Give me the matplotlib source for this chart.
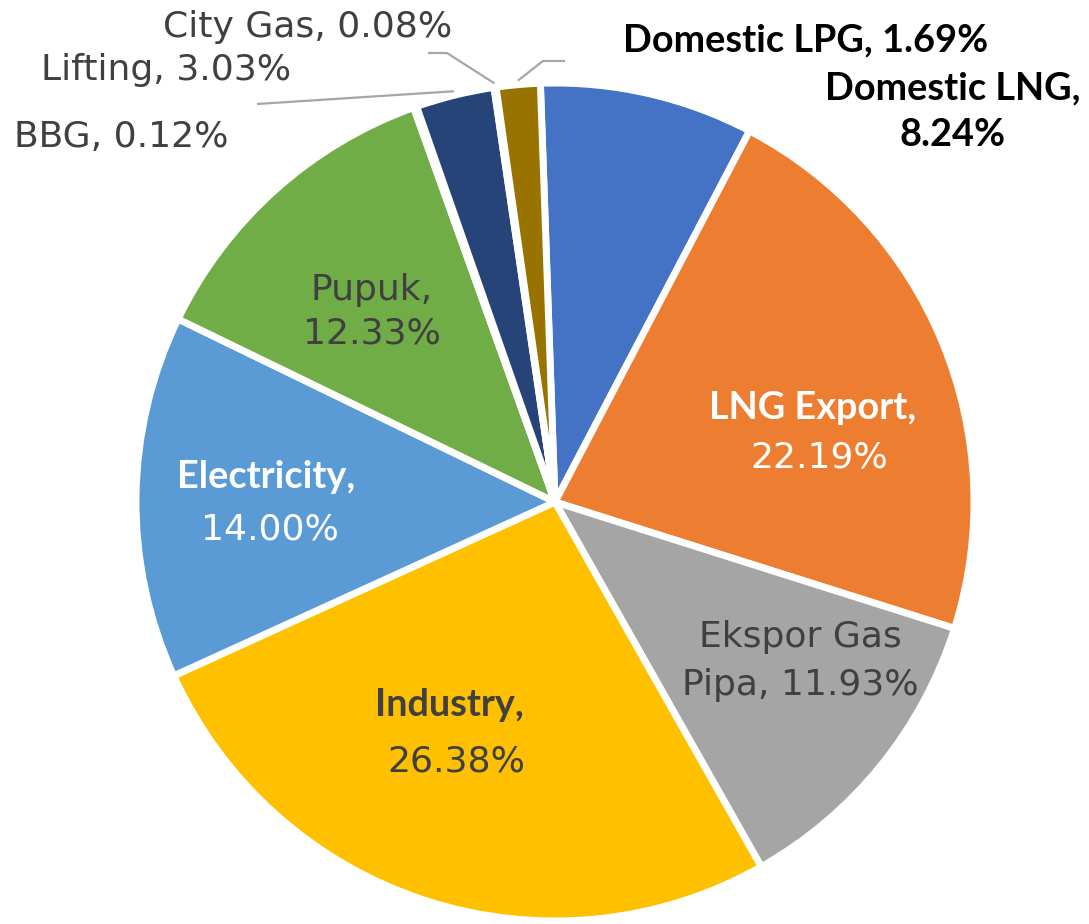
import numpy as np
import matplotlib
matplotlib.use('Agg')
import matplotlib.pyplot as plt

W, H = 1089, 924

labels = ['Domestic LNG', 'LNG Export', 'Ekspor Gas Pipa', 'Industry', 'Electricity',
          'Pupuk', 'BBG', 'Lifting', 'City Gas', 'Domestic LPG']
shares = [8.24, 22.19, 11.93, 26.38, 14.00, 12.33, 0.12, 3.03, 0.08, 1.69]
colors = ['#4472C4', '#ED7D31', '#A5A5A5', '#FFC000', '#5B9BD5',
          '#70AD47', '#9E480E', '#264478', '#636363', '#997300']

# pie geometry in pixel coords (image y measured from top)
cx, cy, rad = 555, 502, 419
start = 92

fig = plt.figure(figsize=(W / 100, H / 100), dpi=100)
ax = fig.add_axes([0, 0, 1, 1])

wedges, _ = ax.pie(shares, colors=colors, startangle=start, counterclock=False,
                   center=(cx, H - cy), radius=rad,
                   wedgeprops=dict(edgecolor='white', linewidth=5))
ax.set_xlim(0, W)
ax.set_ylim(0, H)
ax.set_aspect('equal')
ax.axis('off')

NORM = 'DejaVu Sans'
BOLD = 'Lato'
GREY = '#404040'


def txt(x, y, s, bold=False, color=GREY, size=None):
    if bold:
        ax.text(x, H - y, s, ha='center', va='center', fontsize=size or 27.3,
                fontfamily=BOLD, fontweight='bold', color=color)
    else:
        ax.text(x, H - y, s, ha='center', va='center', fontsize=size or 26,
                fontfamily=NORM, color=color)


def pct(i):
    return '%.2f%%' % shares[i]


def anchor(i, extra=4):
    w = wedges[i]
    mid = np.deg2rad((w.theta1 + w.theta2) / 2)
    return cx + (rad + extra) * np.cos(mid), H - (cy - (rad + extra) * np.sin(mid))


# labels inside / near the slices
txt(953, 88, labels[0] + ',', bold=True, color='black')
txt(953, 135, pct(0), bold=True, color='black')
txt(813, 408, labels[1] + ',', bold=True, color='white')
txt(819, 458, pct(1), color='white')
txt(800, 637, 'Ekspor Gas')
txt(800, 685, 'Pipa, ' + pct(2))
txt(449, 705, labels[3] + ',', bold=True)
txt(456, 762, pct(3))
txt(266, 477, labels[4] + ',', bold=True, color='white')
txt(270, 530, pct(4), color='white')
txt(372, 290, labels[5] + ',')
txt(372, 333, pct(5))
txt(121, 137, labels[6] + ', ' + pct(6))
txt(166, 70, labels[7] + ', ' + pct(7))
txt(308, 27, labels[8] + ', ' + pct(8))
txt(806, 40, labels[9] + ', ' + pct(9), bold=True, color='black')

# leader lines
line_kw = dict(color='#A6A6A6', lw=1.6, solid_capstyle='butt')
ax_, ay_ = anchor(8)
ax.plot([428, 447, ax_], [H - 53, H - 53, ay_], **line_kw)
ax_, ay_ = anchor(9)
ax.plot([565, 543, ax_], [H - 61, H - 61, ay_], **line_kw)
ax_, ay_ = anchor(7)
ax.plot([257, ax_], [H - 104, ay_], **line_kw)

fig.savefig('out.png', dpi=100, facecolor='white')
